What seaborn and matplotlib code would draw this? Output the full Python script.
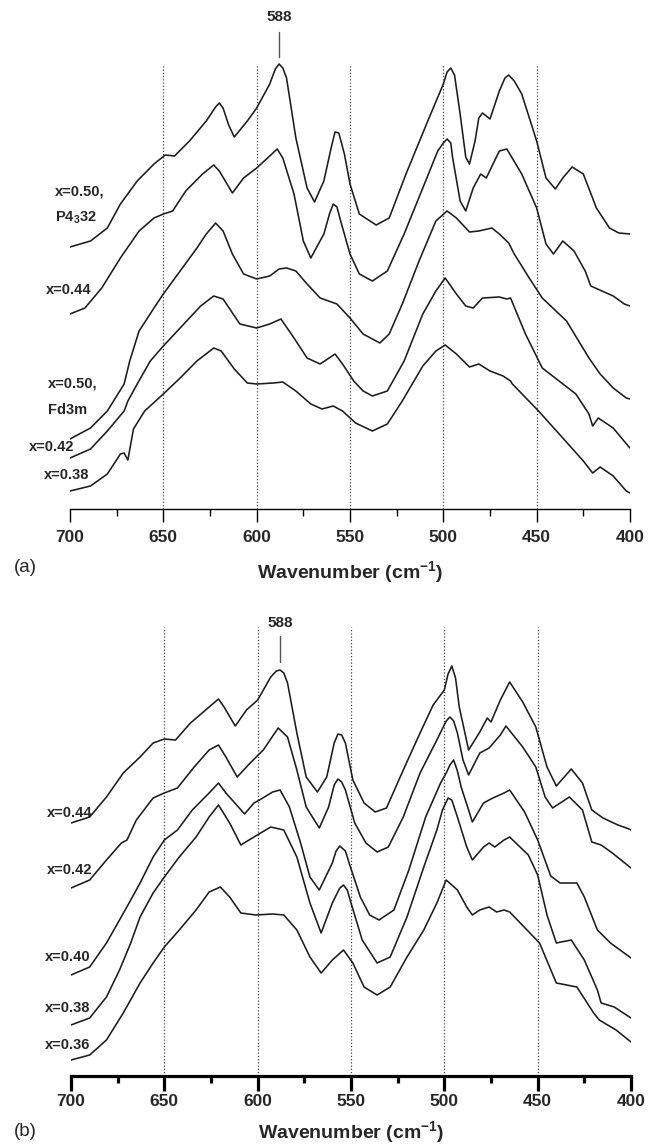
import numpy as np
import pandas as pd
import matplotlib
matplotlib.use("Agg")
import matplotlib.pyplot as plt
import seaborn as sns

# ---------------- Panel (a) spectra (wavenumber, relative transmittance, offset stacked) ----------------
A_P4332_WN = [700, 689, 680, 673, 664, 655, 649, 644, 636, 627, 622, 620, 618, 615, 612, 605, 600, 593, 590, 588,
              586, 584, 579, 573, 569, 564, 560, 558, 556, 553, 550, 545, 536, 529, 520, 509, 500, 498, 496, 494,
              491, 488, 486, 483, 481, 479, 475, 470, 467, 465, 462, 458, 450, 445, 440, 436, 431, 425, 418, 411,
              406, 400]
A_P4332_I = [262, 268, 281, 305, 328, 345, 354, 353, 368, 388, 402, 406, 401, 384, 372, 388, 401, 425, 440, 445,
             441, 431, 371, 321, 307, 328, 362, 377, 376, 355, 325, 295, 284, 291, 335, 385, 425, 437, 441, 434,
             395, 352, 345, 368, 391, 396, 390, 418, 431, 434, 428, 415, 368, 331, 320, 331, 342, 335, 301, 281,
             276, 275]

A_044_WN = [700, 692, 683, 673, 663, 655, 650, 645, 638, 629, 623, 620, 613, 607, 600, 593, 589, 586, 580, 575,
            571, 564, 561, 559, 557, 555, 550, 545, 538, 530, 521, 511, 503, 500, 498, 496, 495, 491, 488, 484,
            480, 477, 470, 466, 458, 450, 445, 441, 436, 430, 424, 421, 415, 409, 403, 400]
A_044_I = [195, 201, 221, 251, 278, 291, 295, 298, 318, 335, 344, 338, 316, 331, 341, 353, 360, 351, 315, 268,
           251, 275, 295, 305, 302, 288, 255, 235, 228, 238, 275, 321, 358, 366, 370, 366, 351, 308, 298, 321,
           335, 331, 358, 360, 335, 301, 265, 255, 268, 258, 238, 223, 218, 213, 205, 203]

A_FD3M_WN = [700, 689, 680, 671, 668, 663, 655, 650, 641, 632, 627, 622, 618, 613, 607, 600, 593, 588, 584, 579,
             573, 566, 557, 550, 543, 534, 529, 522, 513, 504, 498, 493, 486, 481, 474, 470, 465, 462, 454, 447,
             434, 422, 416, 409, 402, 400]
A_FD3M_I = [70, 81, 98, 125, 148, 178, 201, 215, 238, 261, 275, 286, 278, 255, 235, 230, 233, 240, 241, 238,
            225, 211, 205, 191, 175, 166, 175, 205, 248, 288, 298, 291, 277, 278, 281, 275, 266, 255, 231, 211,
            188, 151, 135, 121, 111, 110]

A_042_WN = [700, 689, 680, 671, 669, 664, 657, 650, 641, 630, 623, 618, 609, 600, 593, 587, 580, 573, 566, 558,
            554, 548, 543, 538, 530, 521, 511, 504, 499, 493, 488, 484, 479, 470, 466, 464, 456, 447, 429, 422,
            420, 417, 409, 401, 400]
A_042_I = [51, 60, 78, 98, 108, 125, 148, 163, 181, 203, 213, 210, 185, 181, 185, 190, 171, 151, 145, 155,
           145, 128, 118, 113, 118, 148, 195, 218, 231, 215, 203, 201, 211, 212, 210, 211, 175, 141, 115, 95,
           83, 91, 81, 63, 61]

A_038_WN = [700, 689, 680, 673, 671, 669, 666, 660, 650, 641, 632, 623, 619, 612, 605, 600, 591, 586, 579, 571,
            565, 559, 554, 547, 538, 530, 522, 511, 504, 499, 493, 486, 481, 475, 468, 464, 463, 449, 436, 425,
            420, 416, 409, 402, 400]
A_038_I = [18, 23, 35, 55, 56, 49, 80, 98, 115, 131, 148, 161, 158, 140, 126, 125, 126, 127, 118, 105,
           100, 103, 98, 86, 78, 85, 108, 143, 158, 164, 155, 142, 145, 138, 133, 128, 125, 98, 71, 48,
           36, 42, 33, 18, 16]

# ---------------- Panel (b) spectra ----------------
B_044_WN = [700, 690, 681, 672, 663, 656, 650, 644, 636, 626, 621, 618, 612, 606, 600, 593, 590, 588, 586, 584,
            579, 574, 568, 563, 559, 557, 555, 553, 549, 543, 537, 531, 522, 513, 506, 500, 498, 496, 494, 492,
            487, 481, 477, 475, 470, 465, 458, 451, 445, 440, 432, 426, 421, 415, 407, 401, 400]
B_044_I = [253, 259, 279, 303, 319, 333, 337, 336, 353, 369, 377, 369, 350, 366, 376, 399, 405, 406, 403, 393,
           343, 299, 284, 299, 333, 342, 341, 333, 296, 273, 264, 268, 306, 343, 371, 386, 402, 410, 398, 369,
           326, 344, 358, 354, 376, 394, 374, 349, 309, 290, 307, 293, 266, 258, 251, 247, 246]

B_042_WN = [700, 690, 681, 673, 670, 665, 656, 650, 643, 634, 626, 621, 617, 611, 604, 597, 589, 584, 579, 574,
            567, 562, 559, 557, 555, 553, 548, 542, 536, 530, 522, 513, 504, 499, 497, 495, 493, 490, 487, 481,
            476, 470, 467, 458, 451, 446, 442, 433, 426, 421, 416, 410, 402, 400]
B_042_I = [188, 196, 216, 233, 236, 256, 278, 283, 288, 309, 326, 331, 319, 299, 313, 326, 348, 339, 306, 269,
           248, 269, 291, 297, 294, 286, 253, 233, 224, 229, 259, 303, 336, 355, 359, 355, 343, 316, 301, 323,
           328, 341, 350, 329, 309, 279, 268, 279, 266, 234, 231, 223, 211, 208]

B_040_WN = [700, 690, 681, 674, 668, 663, 656, 650, 643, 635, 626, 621, 617, 607, 602, 599, 592, 588, 583, 577,
            572, 567, 560, 558, 556, 553, 551, 545, 540, 535, 527, 519, 510, 502, 499, 497, 495, 493, 491, 487,
            485, 479, 474, 468, 465, 457, 450, 443, 438, 429, 425, 418, 411, 400]
B_040_I = [101, 109, 133, 156, 176, 193, 219, 236, 246, 266, 283, 293, 283, 262, 273, 276, 284, 286, 269, 233,
           199, 186, 213, 225, 230, 225, 213, 179, 161, 156, 166, 206, 259, 293, 303, 311, 316, 305, 289, 266,
           254, 273, 278, 283, 286, 264, 236, 200, 193, 193, 179, 146, 133, 118]

B_038_WN = [700, 690, 681, 674, 668, 663, 656, 650, 642, 633, 626, 621, 615, 609, 602, 593, 586, 579, 572, 566,
            560, 556, 554, 552, 550, 544, 536, 529, 520, 511, 504, 501, 498, 496, 493, 488, 485, 479, 476, 473,
            468, 465, 455, 450, 445, 440, 432, 425, 418, 416, 409, 400]
B_038_I = [51, 58, 79, 106, 133, 159, 183, 199, 219, 239, 259, 271, 253, 231, 239, 249, 246, 219, 173, 143,
           173, 188, 191, 186, 173, 136, 113, 119, 159, 209, 246, 266, 278, 276, 259, 229, 216, 229, 233, 229,
           236, 239, 221, 201, 161, 133, 136, 116, 86, 73, 69, 58]

B_036_WN = [700, 690, 681, 672, 663, 656, 650, 642, 633, 626, 620, 615, 609, 601, 592, 586, 579, 572, 566, 560,
            554, 549, 543, 536, 529, 520, 511, 504, 499, 493, 488, 485, 481, 476, 472, 468, 465, 449, 440, 429,
            420, 417, 408, 400]
B_036_I = [16, 21, 36, 63, 93, 113, 129, 146, 166, 184, 189, 179, 163, 161, 162, 161, 146, 119, 103, 116,
           126, 113, 89, 81, 89, 119, 146, 173, 196, 186, 169, 161, 166, 169, 164, 166, 164, 133, 93, 89,
           63, 56, 46, 34]

A_LABELS = ["x=0.50,", "P4$_3$32", "x=0.44", "x=0.50,", "Fd3m", "x=0.42", "x=0.38"]
A_LABEL_Y = [317, 291, 219, 126, 99, 62, 34]
A_LABEL_X = [708, 708, 713, 712, 712, 722, 714]
B_LABELS = ["x=0.44", "x=0.42", "x=0.40", "x=0.38", "x=0.36"]
B_LABEL_Y = [263, 206, 119, 68, 31]
B_LABEL_X = [713, 713, 714, 714, 714]

GRID_WN = [650, 600, 550, 500, 450]
PEAK_WN = 588
MAJOR_TICKS = [700, 650, 600, 550, 500, 450, 400]
MINOR_TICKS = [675, 625, 575, 525, 475, 425]


def long_df(series):
    frames = []
    for name, wn, inten in series:
        frames.append(pd.DataFrame({"wn": wn, "I": inten, "sample": name}))
    return pd.concat(frames, ignore_index=True)


dfA = long_df([("a1", A_P4332_WN, A_P4332_I), ("a2", A_044_WN, A_044_I), ("a3", A_FD3M_WN, A_FD3M_I),
               ("a4", A_042_WN, A_042_I), ("a5", A_038_WN, A_038_I)])
dfB = long_df([("b1", B_044_WN, B_044_I), ("b2", B_042_WN, B_042_I), ("b3", B_040_WN, B_040_I),
               ("b4", B_038_WN, B_038_I), ("b5", B_036_WN, B_036_I)])

sns.set_style("ticks")
plt.rcParams["font.family"] = ["Liberation Sans", "DejaVu Sans"]
plt.rcParams["mathtext.fontset"] = "custom"
plt.rcParams["mathtext.rm"] = "Liberation Sans"
plt.rcParams["mathtext.bf"] = "Liberation Sans:bold"
plt.rcParams["mathtext.default"] = "regular"

W, H = 655, 1147
fig = plt.figure(figsize=(W / 100, H / 100), dpi=100)
axA = fig.add_axes([70 / W, 1 - 509 / H, 560 / W, 500 / H])
axB = fig.add_axes([71 / W, 1 - 1076 / H, 560 / W, 480 / H])
axB.set_facecolor("none")
axA.set_facecolor("none")

line_col = "#1c1c1c"
for ax, df, ylim, gtop, txt_y, seg, spw, majlen, pad, lab_x, lab_y, labs, xlpad in [
    (axA, dfA, 500, 445, 492, (452, 477), 1.0, 9, 6, A_LABEL_X, A_LABEL_Y, A_LABELS, 10),
    (axB, dfB, 480, 449, 453, (414, 440), 2.3, 11, 2, B_LABEL_X, B_LABEL_Y, B_LABELS, 7),
]:
    ax.vlines(GRID_WN, 0, gtop, colors="#444444", linestyles=(0, (1, 1.6)), linewidth=0.9)
    sns.lineplot(data=df, x="wn", y="I", units="sample", estimator=None, sort=False,
                 color=line_col, linewidth=1.15, legend=False, ax=ax)
    for line in ax.get_lines():
        line.set_solid_joinstyle("round")
    ax.plot([PEAK_WN, PEAK_WN], list(seg), color="#555555", linewidth=1.0)
    ax.text(PEAK_WN, txt_y, "588", ha="center", va="center", fontsize=11, fontweight="bold")
    for lx, ly, lt in zip(lab_x, lab_y, labs):
        ax.text(lx, ly, lt, ha="left", va="center", fontsize=10.5, fontweight="bold", clip_on=False)
    ax.set_xlim(700, 400)
    ax.set_ylim(0, ylim)
    ax.set_xticks(MAJOR_TICKS)
    ax.set_xticks(MINOR_TICKS, minor=True)
    ax.set_yticks([])
    ax.set_ylabel("")
    sns.despine(ax=ax, left=True)
    ax.spines["bottom"].set_linewidth(spw)
    ax.spines["bottom"].set_color("black")
    ax.tick_params(axis="x", which="major", bottom=True, direction="out", length=majlen, width=spw,
                   pad=pad, labelsize=12.5, color="black")
    ax.tick_params(axis="x", which="minor", bottom=True, direction="out", length=5, width=spw, color="black")
    for lbl in ax.get_xticklabels():
        lbl.set_fontweight("bold")
    ax.set_xlabel("Wavenumber (cm$^{-1}$)", fontsize=14, fontweight="bold", labelpad=xlpad)

fig.text(25 / W, 1 - 567 / H, "(a)", ha="center", va="center", fontsize=13.5)
fig.text(25 / W, 1 - 1131 / H, "(b)", ha="center", va="center", fontsize=13.5)

fig.savefig("out.png", dpi=100)
